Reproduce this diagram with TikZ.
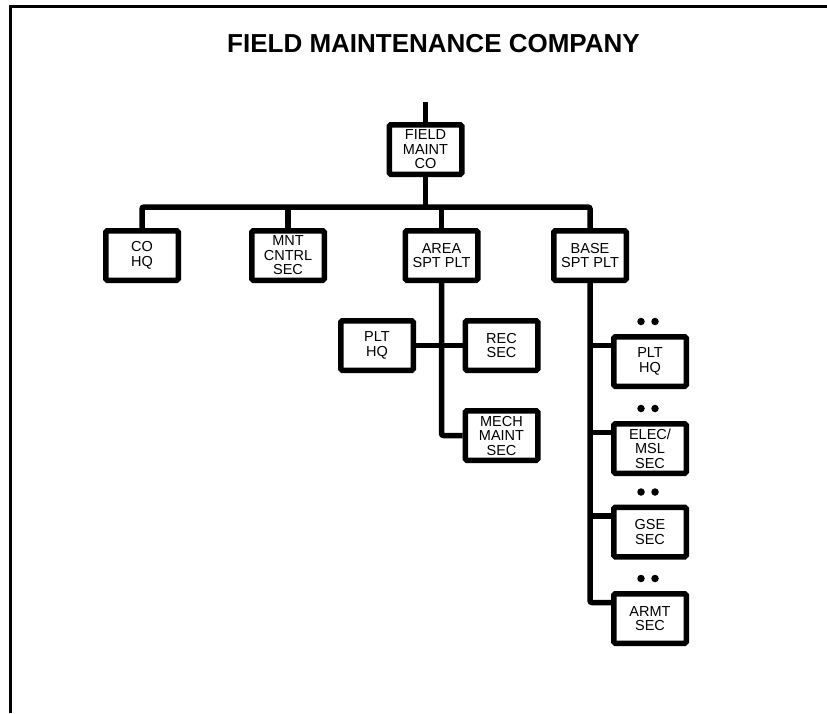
\documentclass[tikz,border=0pt]{standalone}
\usepackage{fontspec}
\setmainfont{Liberation Sans}
\begin{document}
\begin{tikzpicture}[x=1pt,y=-1pt,
  unit/.style={draw, line width=5.5pt, rounded corners=1.5pt, minimum width=72.5pt,
    minimum height=49.5pt, inner sep=0pt, align=center,
    font=\fontsize{14.5}{14.5}\selectfont},
  link/.style={line width=5.5pt, rounded corners=2pt},
  dot/.style={circle, fill, inner sep=0pt, minimum size=7.5pt}]
\useasboundingbox (0,0) rectangle (827,713);
\draw[line width=3pt] (10.5,713) -- (10.5,6) -- (827,6);

\node[anchor=base, font=\fontsize{26}{26}\selectfont\bfseries] (title) at (433.5,52) {FIELD MAINTENANCE COMPANY};

\node[unit] (fmc) at (425.5,149.5) {FIELD\\MAINT\\CO};
\node[unit] (cohq) at (142,255.5) {CO\\HQ};
\node[unit] (mnt) at (288,255.5) {MNT\\CNTRL\\SEC};
\node[unit] (area) at (441.5,255.5) {AREA\\SPT PLT};
\node[unit] (base) at (590,255.5) {BASE\\SPT PLT};

\node[unit] (aplt) at (377,345.5) {PLT\\HQ};
\node[unit] (arec) at (501.5,345.5) {REC\\SEC};
\node[unit] (mech) at (501.5,435.5) {MECH\\MAINT\\SEC};

\node[unit] (bplt) at (650,361.5) {PLT\\HQ};
\node[unit] (belec) at (650,448.5) {ELEC/\\MSL\\SEC};
\node[unit] (bgse) at (650,532) {GSE\\SEC};
\node[unit] (barmt) at (650,618.5) {ARMT\\SEC};

\coordinate (top) at (425.5,102);
\coordinate (bus) at (142,207);

\draw[link] (top) -- (fmc.north);
\draw[link] (fmc.south) -- (fmc.south |- bus);
\draw[link] (cohq.north) -- (cohq.north |- bus) -- (base.north |- bus) -- (base.north);
\draw[link] (mnt.north) -- (mnt.north |- bus);
\draw[link] (area.north) -- (area.north |- bus);

\draw[link] (area.south) |- (mech.west);
\draw[link] (aplt.east) -- (arec.west);

\coordinate (c1) at ([yshift=16pt]bplt.west);
\coordinate (c2) at ([yshift=16pt]belec.west);
\coordinate (c3) at ([yshift=16pt]bgse.west);
\coordinate (c4) at ([yshift=16pt]barmt.west);
\draw[link] (base.south) |- (c4);
\draw[link] (base.south |- c1) -- (c1);
\draw[link] (base.south |- c2) -- (c2);
\draw[link] (base.south |- c3) -- (c3);

\foreach \b in {bplt,belec,bgse,barmt}{
  \node[dot] (\b-dl) at ([xshift=-9pt,yshift=12.5pt]\b.north) {};
  \node[dot] (\b-dr) at ([xshift=5pt,yshift=12.5pt]\b.north) {};
}
\end{tikzpicture}
\end{document}
